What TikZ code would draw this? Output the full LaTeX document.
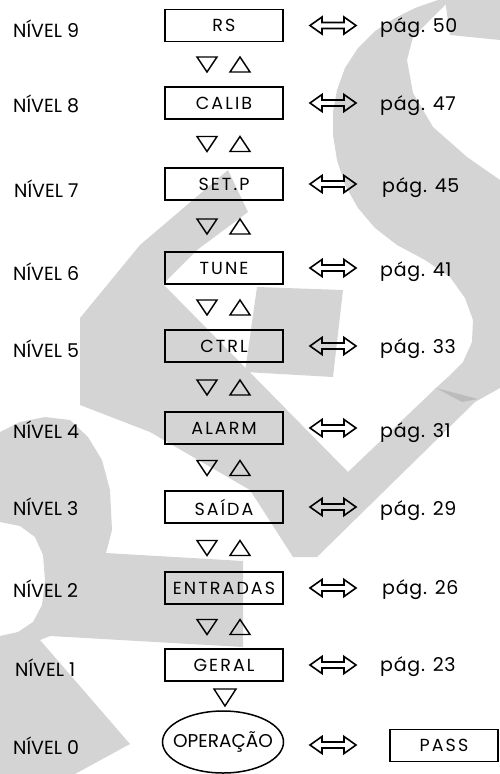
\documentclass[tikz,border=0pt]{standalone}
\usepackage{fontspec}
\setmainfont{Poppins}
\usetikzlibrary{shapes.geometric}
\begin{document}
\begin{tikzpicture}[x=1pt,y=-1pt]
\definecolor{wm}{RGB}{212,212,212}
\definecolor{wmdark}{RGB}{188,188,188}
\tikzset{
  lvl/.style={anchor=base west, inner sep=0pt, font=\fontsize{19}{21}\selectfont},
  pagref/.style={anchor=base west, inner sep=0pt,
    font=\fontsize{19}{21}\selectfont\addfontfeatures{LetterSpace=4}},
  menubox/.style={draw, line width=1.7pt, minimum width=118pt, minimum height=32pt,
    inner sep=0pt, font=\fontsize{17.5}{19}\selectfont\addfontfeatures{LetterSpace=12}},
  opbox/.style={draw, ellipse, line width=1.5pt, minimum width=121pt, minimum height=62pt,
    inner sep=0pt},
  optext/.style={inner sep=0pt, font=\fontsize{18.5}{20}\selectfont},
  tri/.style={line width=1.4pt, line join=miter},
  dblarr/.pic={\draw[line width=1.6pt, line join=miter]
    (0,0) -- (12,-8.5) -- (12,-3) -- (34,-3) -- (34,-8.5) -- (46,0) -- (34,8.5)
    -- (34,3) -- (12,3) -- (12,8.5) -- cycle;},
  updown/.pic={
    \draw[tri] (-27,-7) -- (-7,-7) -- (-17,8) -- cycle;
    \draw[tri] (6,8) -- (26,8) -- (16,-7) -- cycle;},
}
\useasboundingbox (0,0) rectangle (500,774);

% background lettering
\fill[wm] (438,0) -- (415,8) -- (395,18) -- (375,31) -- (358,48) -- (345,68) -- (337,90)
  -- (333,112) -- (333,135) -- (337,160) -- (345,185) -- (358,208) -- (375,228) -- (397,245)
  -- (425,260) -- (450,277) -- (465,298) -- (473,320) -- (472,342) -- (463,362) -- (448,377)
  -- (437,387) -- (348,472) -- (163,284) -- (197,250) -- (248,212) -- (228,170) -- (140,245)
  -- (80,318) -- (80,405) -- (150,432) -- (250,490) -- (293,557) -- (317,557) -- (475,402)
  -- (500,388) -- (500,180) -- (467,157) -- (433,127) -- (413,93) -- (407,60) -- (413,37)
  -- (447,3) -- (447,0) -- cycle;
\fill[wm] (445,0) -- (500,0) -- (500,40) -- (450,35) -- cycle;
\fill[wm] (257,287) -- (343,290) -- (333,377) -- (245,372) -- cycle;
\fill[wmdark] (436,388) -- (478,399) -- (462,402) -- cycle;
\fill[wm] (0,432) -- (20,422) -- (45,417) -- (70,420) -- (88,437) -- (102,460) -- (110,490)
  -- (112,530) -- (106,553) -- (243,561) -- (243,647) -- (50,636) -- (40,640) -- (130,744)
  -- (75,774) -- (0,774) -- (0,636) -- (18,632) -- (33,622) -- (42,605) -- (45,580)
  -- (43,555) -- (35,537) -- (20,526) -- (0,522) -- cycle;

% menu boxes
\node[menubox] (m9) at (224,25.5) {RS};
\node[menubox] (m8) at (224,103) {CALIB};
\node[menubox] (m7) at (224,184) {SET.P};
\node[menubox] (m6) at (224,268) {TUNE};
\node[menubox] (m5) at (224,346) {CTRL};
\node[menubox] (m4) at (224,428) {ALARM};
\node[menubox] (m3) at (224,507) {SAÍDA};
\node[menubox] (m2) at (224,588) {ENTRADAS};
\node[menubox] (m1) at (224,665) {GERAL};
\node[opbox] (m0) at (223,742) {};
\node[optext] (m0t) at (m0.center) {OPERAÇÃO};
\node[menubox, minimum width=108pt] (pass) at (444,745.5) {PASS};

% level labels
\node[lvl] (n9) at (13,37) {NÍVEL 9};
\node[lvl] (n8) at (13,112) {NÍVEL 8};
\node[lvl] (n7) at (14,197) {NÍVEL 7};
\node[lvl] (n6) at (13,280) {NÍVEL 6};
\node[lvl] (n5) at (13,357) {NÍVEL 5};
\node[lvl] (n4) at (13,438) {NÍVEL 4};
\node[lvl] (n3) at (13,515) {NÍVEL 3};
\node[lvl] (n2) at (13,597) {NÍVEL 2};
\node[lvl] (n1) at (15,676) {NÍVEL 1};
\node[lvl] (n0) at (13,754) {NÍVEL 0};

% page references
\node[pagref] (p9) at (380,32) {pág. 50};
\node[pagref] (p8) at (380,110) {pág. 47};
\node[pagref] (p7) at (382,192) {pág. 45};
\node[pagref] (p6) at (380,276) {pág. 41};
\node[pagref] (p5) at (380,353) {pág. 33};
\node[pagref] (p4) at (380,437) {pág. 31};
\node[pagref] (p3) at (380,515) {pág. 29};
\node[pagref] (p2) at (382,594) {pág. 26};
\node[pagref] (p1) at (380,671) {pág. 23};

% two-way arrows between each menu and its page
\foreach \r/\y in {9/25.5,8/103,7/184,6/268,5/346,4/428,3/507,2/588,1/665,0/745}{
  \coordinate (a\r) at (310,\y);
  \pic at (a\r) {dblarr};
}

% navigation keys between levels
\foreach \y in {64,143.5,226,307,387,467.5,547.5,626.5}{
  \pic at (224,\y) {updown};
}
\draw[tri] (214,689) -- (236,689) -- (225,706) -- cycle;
\end{tikzpicture}
\end{document}
